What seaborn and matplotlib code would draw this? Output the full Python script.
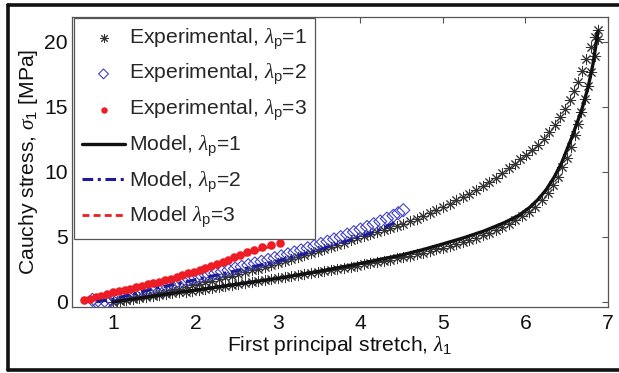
import numpy as np
import matplotlib
matplotlib.use("Agg")
import matplotlib.pyplot as plt
from matplotlib.lines import Line2D
import seaborn as sns

# ---------------- data ----------------
# Experimental, lambda_p = 1 (upper branch)
lam_e1_up = [1.00, 1.08, 1.16, 1.24, 1.32, 1.40, 1.48, 1.56, 1.64, 1.72, 1.80, 1.88,
             1.96, 2.04, 2.12, 2.20, 2.28, 2.36, 2.44, 2.52, 2.60, 2.68, 2.76, 2.84,
             2.92, 3.00, 3.08, 3.16, 3.24, 3.32, 3.40, 3.48, 3.56, 3.64, 3.72, 3.80,
             3.88, 3.96, 4.04, 4.12, 4.20, 4.28, 4.36, 4.44, 4.52, 4.60, 4.68, 4.76,
             4.84, 4.92, 5.00, 5.08, 5.16, 5.24, 5.32, 5.40, 5.48, 5.56, 5.64, 5.72,
             5.80, 5.87, 5.94, 6.01, 6.08, 6.15, 6.22, 6.29, 6.36, 6.42, 6.48, 6.54,
             6.59, 6.64, 6.69, 6.74, 6.79, 6.84, 6.88]
sig_e1_up = [0.00, 0.08, 0.17, 0.26, 0.36, 0.46, 0.56, 0.67, 0.78, 0.90, 1.02, 1.14,
             1.26, 1.38, 1.50, 1.62, 1.75, 1.88, 2.01, 2.14, 2.28, 2.42, 2.56, 2.70,
             2.85, 3.00, 3.15, 3.30, 3.45, 3.60, 3.76, 3.92, 4.08, 4.24, 4.40, 4.56,
             4.72, 4.88, 5.04, 5.20, 5.36, 5.52, 5.68, 5.85, 6.02, 6.20, 6.40, 6.60,
             6.82, 7.05, 7.30, 7.55, 7.80, 8.05, 8.30, 8.58, 8.88, 9.20, 9.55, 9.92,
             10.30, 10.60, 10.95, 11.30, 11.70, 12.10, 12.55, 13.05, 13.60, 14.20, 14.85, 15.55,
             16.20, 16.90, 17.75, 18.65, 19.60, 20.40, 20.90]

# Experimental, lambda_p = 1 (lower branch)
lam_e1_lo = [1.00, 1.08, 1.16, 1.24, 1.32, 1.40, 1.48, 1.56, 1.64, 1.72, 1.80, 1.88,
             1.96, 2.04, 2.12, 2.20, 2.28, 2.36, 2.44, 2.52, 2.60, 2.68, 2.76, 2.84,
             2.92, 3.00, 3.08, 3.16, 3.24, 3.32, 3.40, 3.48, 3.56, 3.64, 3.72, 3.80,
             3.88, 3.96, 4.04, 4.12, 4.20, 4.28, 4.36, 4.44, 4.52, 4.60, 4.68, 4.76,
             4.84, 4.92, 5.00, 5.08, 5.16, 5.24, 5.32, 5.40, 5.48, 5.56, 5.64, 5.72,
             5.80, 5.88, 5.96, 6.04, 6.12, 6.20, 6.27, 6.33, 6.39, 6.45, 6.50, 6.55,
             6.60, 6.64, 6.68, 6.72, 6.76, 6.80, 6.84, 6.88]
sig_e1_lo = [0.00, 0.06, 0.13, 0.20, 0.28, 0.36, 0.43, 0.50, 0.57, 0.65, 0.72, 0.79,
             0.86, 0.93, 1.00, 1.08, 1.15, 1.22, 1.29, 1.36, 1.43, 1.50, 1.57, 1.64,
             1.72, 1.80, 1.87, 1.95, 2.03, 2.11, 2.19, 2.27, 2.35, 2.43, 2.52, 2.60,
             2.69, 2.78, 2.87, 2.96, 3.05, 3.14, 3.24, 3.34, 3.44, 3.55, 3.66, 3.78,
             3.90, 4.03, 4.16, 4.30, 4.44, 4.59, 4.75, 4.92, 5.10, 5.29, 5.50, 5.73,
             5.98, 6.26, 6.57, 6.92, 7.32, 7.80, 8.35, 8.95, 9.60, 10.35, 11.10, 11.90,
             12.80, 13.70, 14.60, 15.60, 16.60, 17.70, 18.90, 20.20]

# Experimental, lambda_p = 2
lam_e2 = [0.75, 0.80, 0.86, 0.92, 0.98, 1.05, 1.12, 1.20, 1.28, 1.36, 1.44, 1.52,
          1.60, 1.68, 1.76, 1.84, 1.92, 2.00, 2.08, 2.16, 2.24, 2.32, 2.40, 2.48,
          2.56, 2.64, 2.72, 2.80, 2.88, 2.96, 3.04, 3.12, 3.20, 3.28, 3.36, 3.44,
          3.52, 3.60, 3.68, 3.76, 3.84, 3.92, 4.00, 4.08, 4.16, 4.24, 4.32, 4.40,
          4.46, 4.52]
sig_e2 = [0.15, 0.00, -0.15, -0.05, 0.15, 0.35, 0.50, 0.65, 0.78, 0.90, 1.02, 1.14,
          1.26, 1.37, 1.48, 1.60, 1.72, 1.84, 1.96, 2.08, 2.20, 2.32, 2.44, 2.56,
          2.69, 2.82, 2.95, 3.08, 3.22, 3.36, 3.50, 3.65, 3.80, 3.96, 4.12, 4.28,
          4.45, 4.62, 4.80, 4.98, 5.17, 5.36, 5.56, 5.76, 5.97, 6.18, 6.40, 6.62,
          6.82, 7.05]

# Experimental, lambda_p = 3
lam_e3 = [0.65, 0.72, 0.79, 0.86, 0.93, 1.00, 1.07, 1.14, 1.21, 1.28, 1.35, 1.42,
          1.49, 1.56, 1.63, 1.70, 1.77, 1.84, 1.91, 1.98, 2.05, 2.12, 2.19, 2.26,
          2.33, 2.40, 2.47, 2.54, 2.62, 2.71, 2.81, 2.92, 3.03]
sig_e3 = [0.10, 0.22, 0.34, 0.47, 0.60, 0.72, 0.82, 0.92, 1.02, 1.12, 1.22, 1.33,
          1.44, 1.55, 1.67, 1.79, 1.92, 2.05, 2.18, 2.32, 2.46, 2.61, 2.76, 2.92,
          3.08, 3.25, 3.42, 3.60, 3.80, 4.00, 4.20, 4.38, 4.50]

# Model curves
lam_m1 = [1.0, 1.5, 2.0, 2.5, 3.0, 3.5, 4.0, 4.5, 4.75, 5.0, 5.25, 5.5, 5.75, 5.92,
          6.05, 6.15, 6.25, 6.35, 6.44, 6.56, 6.68, 6.76, 6.82, 6.88]
sig_m1 = [0.0, 0.45, 0.9, 1.35, 1.8, 2.35, 2.95, 3.6, 4.0, 4.45, 4.92, 5.45, 6.1, 6.65,
          7.25, 7.85, 8.6, 9.6, 10.7, 12.6, 14.7, 16.5, 18.3, 20.8]

lam_m2 = [0.8, 1.0, 1.5, 2.0, 2.5, 3.0, 3.5, 4.0, 4.2, 4.42]
sig_m2 = [0.0, 0.2, 1.0, 1.7, 2.4, 3.15, 4.0, 5.0, 5.45, 6.1]

lam_m3 = [0.65, 1.0, 1.5, 2.0, 2.5, 2.8, 2.95]
sig_m3 = [0.05, 0.6, 1.35, 2.25, 3.35, 4.05, 4.35]

x_ticks = [1, 2, 3, 4, 5, 6, 7]
y_ticks = [0, 5, 10, 15, 20]

labels = ["Experimental, $\\lambda_\\mathrm{p}$=1",
          "Experimental, $\\lambda_\\mathrm{p}$=2",
          "Experimental, $\\lambda_\\mathrm{p}$=3",
          "Model, $\\lambda_\\mathrm{p}$=1",
          "Model, $\\lambda_\\mathrm{p}$=2",
          "Model $\\lambda_\\mathrm{p}$=3"]

# ---------------- style ----------------
sns.set_style("white")
plt.rcParams["font.family"] = ["Liberation Sans", "DejaVu Sans"]
plt.rcParams["mathtext.fontset"] = "custom"
plt.rcParams["mathtext.rm"] = "Liberation Sans"
plt.rcParams["mathtext.sf"] = "Liberation Sans"
plt.rcParams["mathtext.it"] = "Liberation Serif:italic"
plt.rcParams["mathtext.bf"] = "Liberation Sans:bold"

FS = 15.2
fig = plt.figure(figsize=(6.19, 3.73), dpi=100)
ax = fig.add_axes([0.116, 0.177, 0.866, 0.777])

BLACK = "#111111"
BLUE_M = "#4040c8"
BLUE_L = "#1c1c96"
RED = "#ee1c24"

sns.scatterplot(x=np.concatenate([lam_e1_up, lam_e1_lo]),
                y=np.concatenate([sig_e1_up, sig_e1_lo]),
                marker=(8, 2, 0), color="#333333", s=56, linewidth=0.7,
                ax=ax, label=labels[0])
sns.scatterplot(x=lam_e2, y=sig_e2, marker="D", s=44, facecolor="none",
                edgecolor=BLUE_M, linewidth=0.8, color=BLUE_M, ax=ax, label=labels[1])
sns.scatterplot(x=lam_e3, y=sig_e3, marker="o", s=38, color=RED,
                edgecolor=RED, linewidth=0, ax=ax, label=labels[2])

sns.lineplot(x=lam_m1, y=sig_m1, sort=False, estimator=None, color=BLACK,
             linewidth=2.4, ax=ax, label=labels[3])
sns.lineplot(x=lam_m2, y=sig_m2, sort=False, estimator=None, color=BLUE_L,
             linewidth=2.2, linestyle=(0, (3.5, 1.5, 1.0, 1.5)), ax=ax, label=labels[4])
sns.lineplot(x=lam_m3, y=sig_m3, sort=False, estimator=None, color=RED,
             linewidth=2.0, linestyle=(0, (2.5, 1.5)), ax=ax, label=labels[5])

ax.set_xlim(0.5, 7.0)
ax.set_ylim(-0.4, 21.9)
ax.set_xticks(x_ticks)
ax.set_yticks(y_ticks)
ax.set_xticklabels([str(t) for t in x_ticks])
ax.set_yticklabels([str(t) for t in y_ticks])
ax.tick_params(direction="in", top=True, right=True, length=4, width=0.8,
               color="#555555", labelsize=FS, labelcolor="#111111")
ax.tick_params(axis="x", pad=5)
ax.tick_params(axis="y", pad=3)
for sp in ax.spines.values():
    sp.set_color("#555555")
    sp.set_linewidth(0.9)

ax.set_xlabel("First principal stretch, $\\lambda_1$", fontsize=FS, color="#111111", labelpad=1)
ax.set_ylabel("Cauchy stress, $\\sigma_1$ [MPa]", fontsize=FS, color="#111111", labelpad=3)

handles, labs = ax.get_legend_handles_labels()
leg = ax.legend(handles, labs, loc="upper left", bbox_to_anchor=(0.004, 0.997),
                fontsize=FS, frameon=True, fancybox=False, framealpha=1,
                edgecolor="#555555", handlelength=2.0, handletextpad=0.2,
                labelspacing=0.5, borderpad=0.4, borderaxespad=0.0,
                scatterpoints=1, markerscale=0.75)
leg.get_frame().set_linewidth(0.9)

# outer frame of the figure
for xs, ys in [([0.013, 1.0], [0.987, 0.987]),
               ([0.013, 0.013], [0.987, 0.008]),
               ([0.013, 1.0], [0.008, 0.008])]:
    fig.add_artist(Line2D(xs, ys, transform=fig.transFigure, color="#111111", lw=2.6))

fig.savefig("out.png", dpi=100)
